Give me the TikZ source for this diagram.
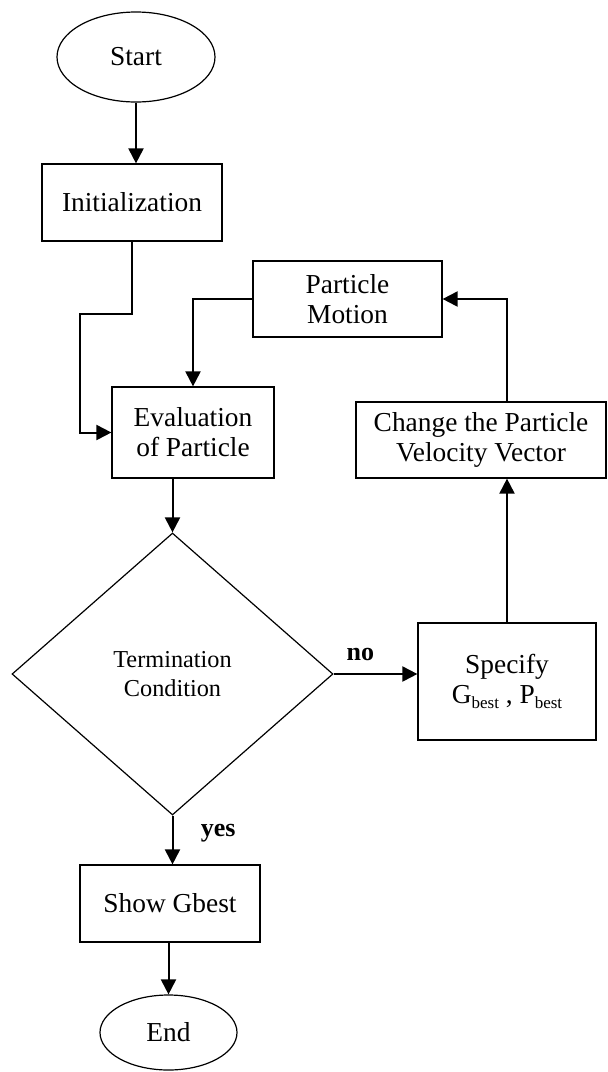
\documentclass[tikz,border=0pt]{standalone}
\usepackage{fontspec}
\setmainfont{Liberation Serif}
\usepackage{tikz}
\usetikzlibrary{arrows.meta,shapes.geometric}
\newcommand{\best}{\raisebox{-5pt}{\fontsize{17}{17}\selectfont best}}
\tikzset{box/.style={draw,line width=1.2pt,align=center,inner sep=0pt,
  font=\fontsize{27.4}{30}\selectfont},
  term/.style={box,ellipse},
  test/.style={box,diamond,font=\fontsize{24.3}{29}\selectfont},
  arrow/.style={-{Triangle[length=15pt,width=15pt]},line width=2pt},
  lbl/.style={font=\fontsize{26}{28}\selectfont\bfseries}}

\begin{document}
\begin{tikzpicture}[x=1pt,y=-1pt]
\useasboundingbox (0,0) rectangle (608,1072);
\node[term,minimum width=158pt,minimum height=90pt] (start) at (136,57) {Start};
\node[box,minimum width=180pt,minimum height=77pt] (init) at (132,202.5) {Initialization};
\node[box,minimum width=162pt,minimum height=91pt] (eval) at (193,432.5) {Evaluation\\of Particle};
\node[box,minimum width=189pt,minimum height=76pt] (motion) at (347.5,299) {Particle\\Motion};
\node[box,minimum width=250pt,minimum height=76pt] (change) at (481,440) {Change the Particle\\Velocity Vector};
\node[box,minimum width=178pt,minimum height=117pt] (spec) at (507,681.5) {Specify\\G\best\ , P\best};
\node[test,minimum width=321pt,minimum height=282pt] (cond) at (172.5,674) {Termination\\Condition};
\node[box,minimum width=180pt,minimum height=77pt] (show) at (170,903.5) {Show Gbest};
\node[term,minimum width=137pt,minimum height=75pt] (end) at (168.5,1032.5) {End};
\draw[arrow] (start.south) -- (start.south |- init.north);
\draw[arrow] (init.south) -- ++(0,72) -| ([xshift=-31pt]eval.west) -- (eval.west);
\draw[arrow] (motion.west) -| (eval.north);
\draw[arrow] (change.north -| spec.north) |- (motion.east);
\draw[arrow] (spec.north) -- (spec.north |- change.south);
\draw[arrow] (eval.south -| cond.north) -- (cond.north);
\draw[arrow] (cond.east) -- node[lbl,above=9pt,pos=0.32] {no} (cond.east -| spec.west);
\draw[arrow] (cond.south) -- node[lbl,right=24pt,pos=0.35] {yes} (cond.south |- show.north);
\draw[arrow] (show.south -| end.north) -- (end.north);
\end{tikzpicture}
\end{document}
